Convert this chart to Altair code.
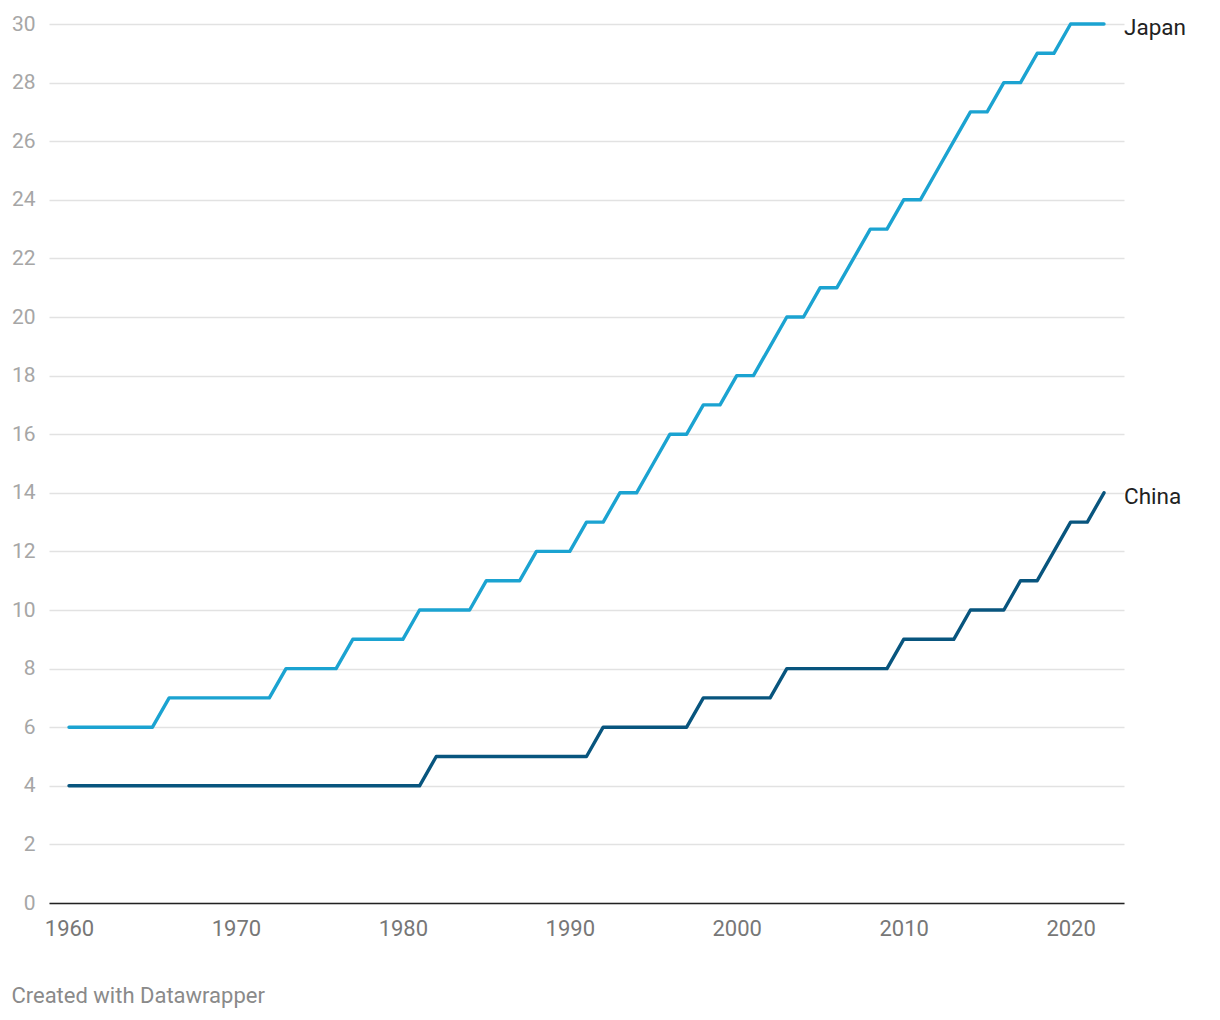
import altair as alt
import pandas as pd

years = list(range(1960, 2023))
japan = [6, 6, 6, 6, 6, 6,
         7, 7, 7, 7, 7, 7, 7,
         8, 8, 8, 8,
         9, 9, 9, 9,
         10, 10, 10, 10,
         11, 11, 11,
         12, 12, 12,
         13, 13, 14, 14, 15, 16, 16, 17, 17, 18, 18, 19, 20, 20, 21, 21,
         22, 23, 23, 24, 24, 25, 26, 27, 27, 28, 28, 29, 29, 30, 30, 30]
china = [4] * 22 + [5] * 10 + [6] * 6 + [7] * 5 + [8] * 7 + [9] * 4 + [10] * 3 + [11, 11, 12, 13, 13, 14]
series = ["Japan", "China"]
colors = ["#1ba3d1", "#08557e"]

df = pd.concat([
    pd.DataFrame({"year": years, "value": japan, "country": "Japan"}),
    pd.DataFrame({"year": years, "value": china, "country": "China"}),
])

x = alt.X("year:Q",
          scale=alt.Scale(domain=[1960, 2022], padding=20, nice=False, zero=False),
          axis=alt.Axis(values=[1960, 1970, 1980, 1990, 2000, 2010, 2020], format="d",
                        grid=False, ticks=False, domain=True, domainColor="#222222",
                        domainWidth=1.5, labelColor="#777777", labelFontSize=22,
                        labelPadding=15, labelFont="Roboto", title=None))
y = alt.Y("value:Q",
          scale=alt.Scale(domain=[0, 30], nice=False),
          axis=alt.Axis(values=list(range(0, 31, 2)), grid=True, gridColor="#e2e2e2",
                        gridWidth=1.3, ticks=False, domain=False, labelColor="#a6a6a6",
                        labelFontSize=21, labelPadding=14, labelFont="Roboto", title=None))
color = alt.Color("country:N", scale=alt.Scale(domain=series, range=colors), legend=None)

lines = alt.Chart(df).mark_line(strokeWidth=3.4, strokeCap="round", strokeJoin="round").encode(
    x=x, y=y, color=color, detail="country:N")

labels = alt.Chart(df[df["year"] == 2022]).mark_text(
    align="left", baseline="middle", dx=20, dy=4, fontSize=22.5, font="Roboto", color="#222222"
).encode(x="year:Q", y="value:Q", text="country:N")

chart = (lines + labels).properties(
    width=1075, height=879,
    autosize=alt.AutoSizeParams(type="none"),
    padding={"left": 41, "top": 16, "right": 80, "bottom": 110},
    title=alt.TitleParams("Created with Datawrapper", orient="bottom", anchor="start",
                          frame="bounds", fontSize=22, font="Roboto", fontWeight="normal",
                          color="#8a8a8a", offset=47),
).configure_view(stroke=None)

chart.save("out.html", embed_options={"renderer": "svg", "actions": False})
